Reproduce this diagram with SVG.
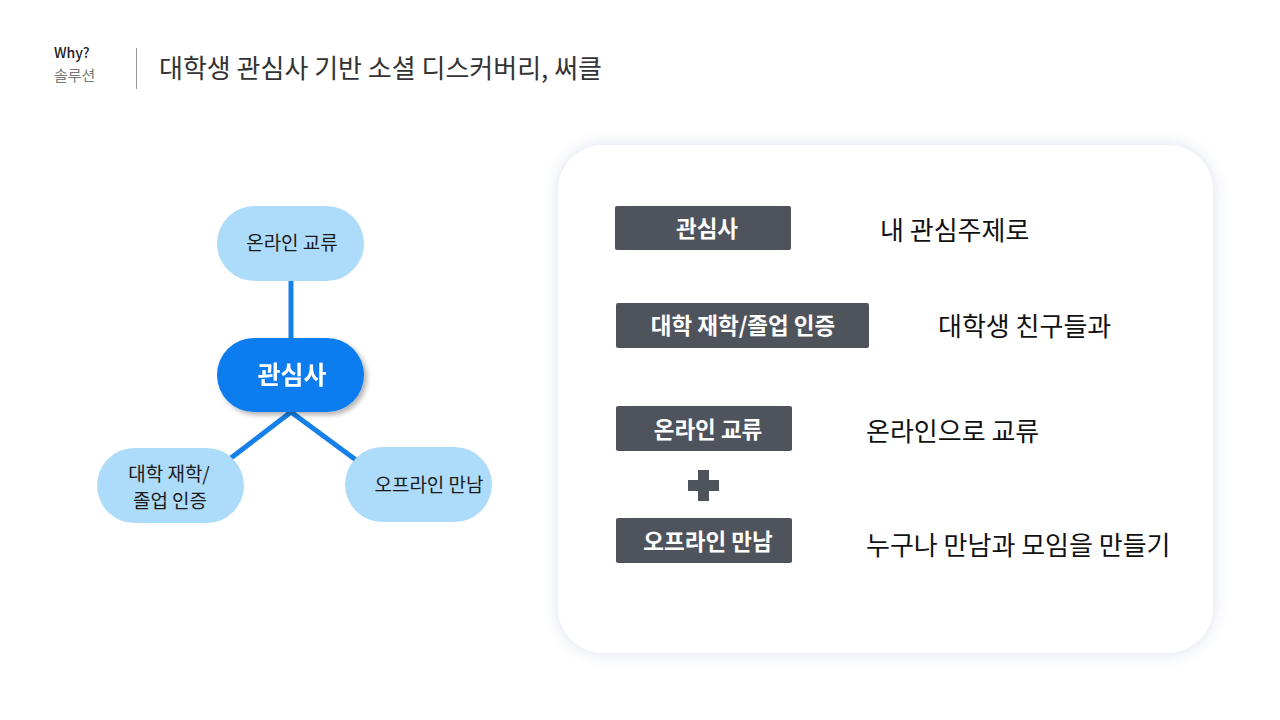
<svg xmlns="http://www.w3.org/2000/svg" width="1280" height="720" viewBox="0 0 1280 720">
<defs>
<style>
text{font-family:"Noto Sans CJK KR","Noto Sans",sans-serif;}
.leaf{fill:#ADDBFA;}
.leafT{font-size:19px;fill:#1a1a1a;text-anchor:middle;}
.tag{fill:#4F535C;}
.tagT{font-size:22.5px;font-weight:bold;fill:#fff;text-anchor:middle;}
.desc{font-size:26px;fill:#111;}
.conn{stroke:#1580E8;stroke-width:5;fill:none;}
</style>
<filter id="sh" x="-20%" y="-20%" width="140%" height="140%">
<feGaussianBlur in="SourceAlpha" stdDeviation="8"/>
<feOffset dx="0" dy="0" result="b"/>
<feFlood flood-color="#AEBBD6" flood-opacity="0.45"/>
<feComposite in2="b" operator="in"/>
<feMerge><feMergeNode/><feMergeNode in="SourceGraphic"/></feMerge>
</filter>
<filter id="sh2" x="-20%" y="-20%" width="150%" height="150%">
<feGaussianBlur in="SourceAlpha" stdDeviation="2.5"/>
<feOffset dx="3" dy="3" result="b"/>
<feFlood flood-color="#000" flood-opacity="0.3"/>
<feComposite in2="b" operator="in"/>
<feMerge><feMergeNode/><feMergeNode in="SourceGraphic"/></feMerge>
</filter>
</defs>
<rect width="1280" height="720" fill="#fff"/>
<g id="header">
<text x="54" y="58" font-size="14" fill="#222" font-weight="500">Why?</text>
<text x="54" y="81" font-size="15" fill="#777">솔루션</text>
<line x1="136.5" y1="48" x2="136.5" y2="89" stroke="#999" stroke-width="1"/>
<text x="159" y="78" font-size="26" fill="#333">대학생 관심사 기반 소셜 디스커버리, 써클</text>
</g>
<g id="connectors">
<line class="conn" x1="291" y1="281" x2="291" y2="340"/>
<line class="conn" x1="291" y1="412" x2="231" y2="458"/>
<line class="conn" x1="291" y1="412" x2="356" y2="460"/>
</g>
<g id="node-online">
<rect class="leaf" x="217" y="206" width="147" height="75" rx="37.5"/>
<text class="leafT" x="292" y="250">온라인 교류</text>
</g>
<g id="node-center" filter="url(#sh2)">
<rect x="217" y="338" width="147" height="74" rx="37" fill="#0A7BEF"/>
<text x="292" y="384" font-size="25" font-weight="bold" fill="#fff" text-anchor="middle">관심사</text>
</g>
<g id="node-univ">
<rect class="leaf" x="97" y="448" width="147" height="75" rx="37.5"/>
<text class="leafT" x="169" y="481">대학 재학/</text>
<text class="leafT" x="170" y="507.5">졸업 인증</text>
</g>
<g id="node-offline">
<rect class="leaf" x="345" y="447" width="147" height="75" rx="37.5"/>
<text class="leafT" x="429" y="492">오프라인 만남</text>
</g>
<g id="panel">
<rect x="558" y="145" width="655" height="508" rx="45" fill="#fff" filter="url(#sh)"/>
</g>
<g id="row1">
<rect class="tag" x="615" y="206" width="176" height="44" rx="2"/>
<text class="tagT" x="707" y="237">관심사</text>
<text class="desc" x="880" y="240">내 관심주제로</text>
</g>
<g id="row2">
<rect class="tag" x="616" y="303" width="253" height="45" rx="2"/>
<text class="tagT" x="743" y="334">대학 재학/졸업 인증</text>
<text class="desc" x="938" y="336">대학생 친구들과</text>
</g>
<g id="row3">
<rect class="tag" x="616" y="406" width="176" height="45" rx="2"/>
<text class="tagT" x="708" y="438">온라인 교류</text>
<text class="desc" x="866" y="441">온라인으로 교류</text>
</g>
<g id="plus">
<rect x="688" y="480" width="31" height="11" fill="#4F535C"/>
<rect x="698" y="470" width="11" height="31" fill="#4F535C"/>
</g>
<g id="row4">
<rect class="tag" x="616" y="518" width="176" height="45" rx="2"/>
<text class="tagT" x="708" y="550">오프라인 만남</text>
<text class="desc" x="866" y="555">누구나 만남과 모임을 만들기</text>
</g>
</svg>
